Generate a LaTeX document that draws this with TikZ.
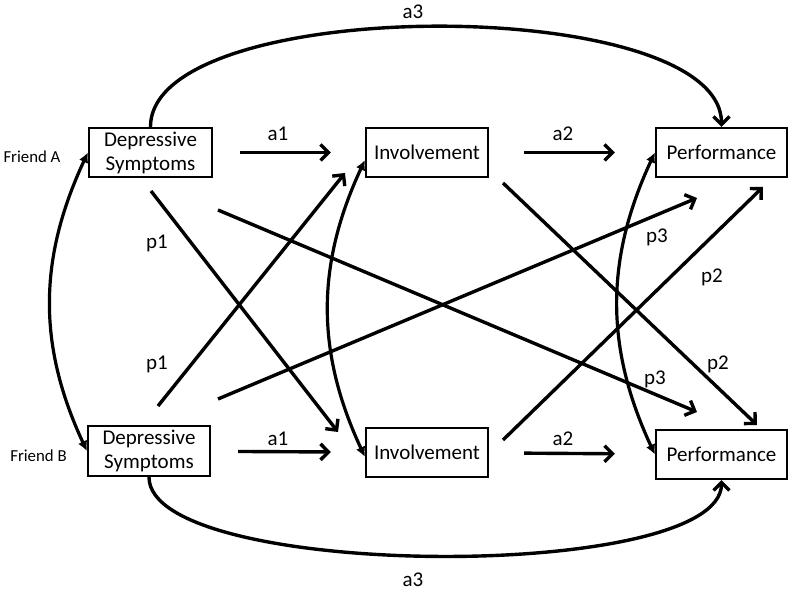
\documentclass[tikz,border=0pt]{standalone}
\usepackage{fontspec}
\setmainfont{Carlito}
\usetikzlibrary{arrows.meta}

\tikzset{
	box/.style={draw,line width=1.1pt,inner sep=0pt,minimum height=24.5pt,align=center,font=\fontsize{10.5}{12}\selectfont},
	lbl/.style={font=\fontsize{10.5}{12}\selectfont},
	side/.style={font=\fontsize{8.4}{10}\selectfont},
	arr/.style={line width=1.7pt,-{Straight Barb[length=4pt,width=8pt]}},
	dbl/.style={line width=1.6pt,{Latex[length=5pt,width=5pt]}-{Latex[length=5pt,width=5pt]}},
}

\begin{document}
\begin{tikzpicture}[x=0.5pt,y=-0.5pt]
	\useasboundingbox (0,0) rectangle (800,597);

	\node[box,minimum width=61.5pt] (depA) at(150.5,152.5) {Depressive\\Symptoms};
	\node[box,minimum width=61pt] (invA) at(427,152.5) {Involvement};
	\node[box,minimum width=65.5pt] (perfA) at(721.5,152.5) {Performance};
	\node[box,minimum width=61pt,minimum height=25pt] (depB) at(149,451) {Depressive\\Symptoms};
	\node[box,minimum width=61pt] (invB) at(427,452.5) {Involvement};
	\node[box,minimum width=65.5pt] (perfB) at(721.5,454.5) {Performance};

	\node[side] (frA) at(32,157) {Friend A};
	\node[side] (frB) at(38.5,456) {Friend B};

	% ends of the cross paths
	\coordinate (p1As) at(151,191);
	\coordinate (p1Ae) at(338,432);
	\coordinate (p1Bs) at(158,406);
	\coordinate (p1Be) at(345,173);
	\coordinate (p3As) at(218,210);
	\coordinate (p3Ae) at(697,412);
	\coordinate (p3Bs) at(218,399);
	\coordinate (p3Be) at(697,198);
	\coordinate (p2As) at(503,183);
	\coordinate (p2Ae) at(757,425);
	\coordinate (p2Bs) at(503,440);
	\coordinate (p2Be) at(763,187);

	\draw[arr,shorten <=13.5pt,shorten >=17pt] (depA)to(invA);
	\draw[arr,shorten <=17.5pt,shorten >=20pt] (invA)to(perfA);
	\draw[arr,shorten <=13.5pt,shorten >=17pt] (depB)to(invB);
	\draw[arr,shorten <=17.5pt,shorten >=20pt] (invB)to(perfB);

	\draw[arr] (depA.north)to[out=90,in=90,looseness=0.6](perfA.north);
	\draw[arr] (depB.south)to[out=-90,in=-90,looseness=0.46](perfB.south);

	\draw[arr] (p1As)to(p1Ae);
	\draw[arr] (p1Bs)to(p1Be);
	\draw[arr] (p3As)to(p3Ae);
	\draw[arr] (p3Bs)to(p3Be);
	\draw[arr] (p2As)to(p2Ae);
	\draw[arr] (p2Bs)to(p2Be);

	\draw[dbl] (depA.west)to[out=245,in=115](depB.west);
	\draw[dbl] (invA.187)to[out=245,in=115](invB.184);
	\draw[dbl] (perfA.west)to[out=245,in=115](perfB.west);

	\node[lbl] (la1A) at(278,134) {a1};
	\node[lbl] (la2A) at(563,134) {a2};
	\node[lbl] (la3A) at(413,12) {a3};
	\node[lbl] (la1B) at(278,439) {a1};
	\node[lbl] (la2B) at(563,439) {a2};
	\node[lbl] (la3B) at(413,580) {a3};
	\node[lbl] (lp1A) at(157,243) {p1};
	\node[lbl] (lp1B) at(157,364) {p1};
	\node[lbl] (lp3B) at(657,237) {p3};
	\node[lbl] (lp3A) at(655,379) {p3};
	\node[lbl] (lp2B) at(712,277) {p2};
	\node[lbl] (lp2A) at(718,364) {p2};
\end{tikzpicture}
\end{document}
